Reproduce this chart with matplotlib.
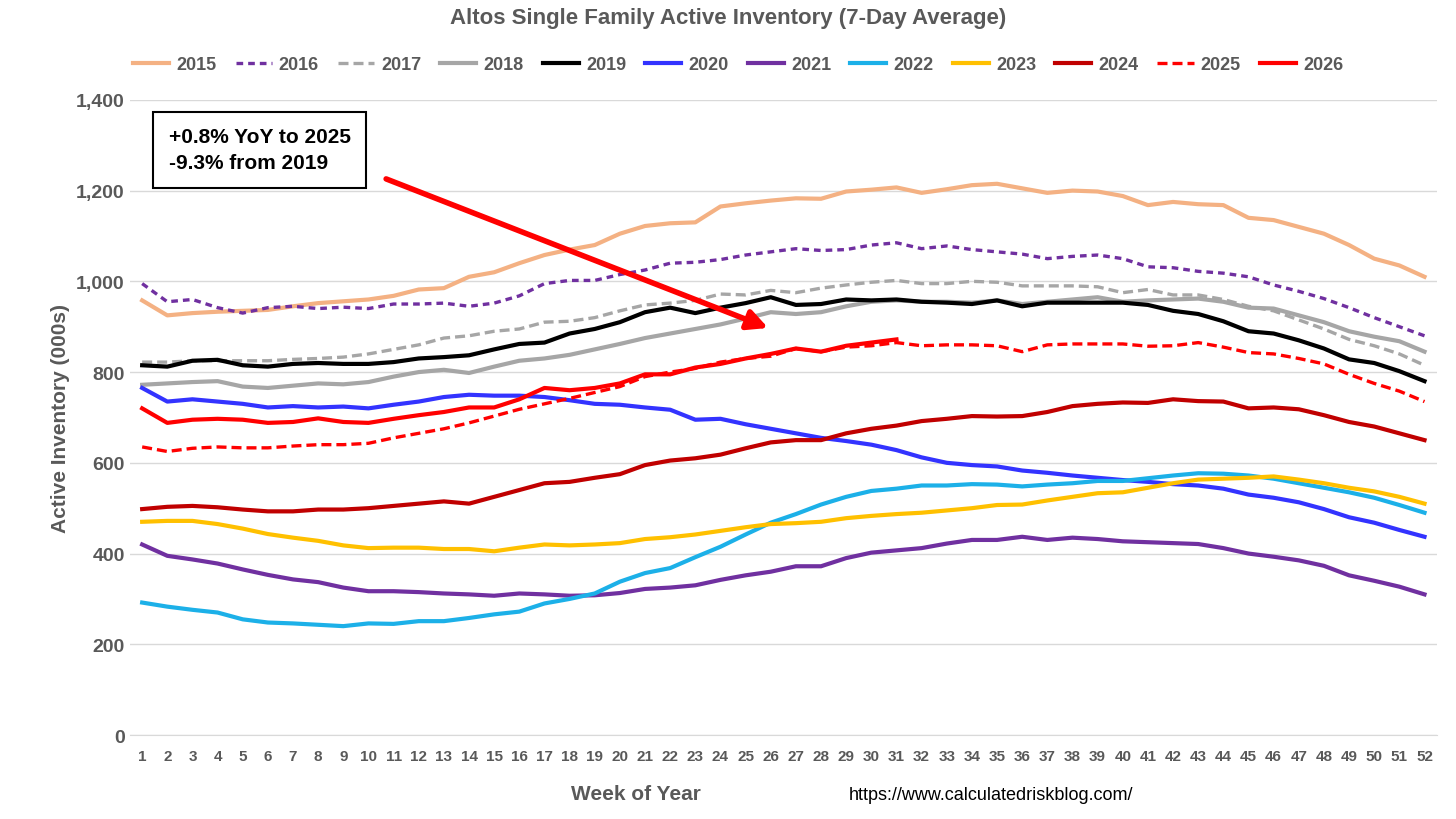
import matplotlib
matplotlib.use("Agg")
import matplotlib.pyplot as plt
import numpy as np

plt.rcParams['font.family'] = ['Liberation Sans', 'DejaVu Sans']

weeks = np.arange(1, 53)

y2015 = [958, 925, 930, 933, 935, 937, 945, 952, 956, 960, 968, 982, 985, 1010, 1020, 1040, 1058, 1070, 1080, 1105,
         1122, 1128, 1130, 1165, 1172, 1178, 1183, 1182, 1198, 1202, 1207, 1195, 1203, 1212, 1215, 1205, 1195, 1200,
         1198, 1188, 1168, 1175, 1170, 1168, 1140, 1135, 1120, 1105, 1080, 1050, 1035, 1010]
y2016 = [995, 955, 960, 942, 930, 942, 945, 940, 943, 940, 950, 950, 952, 945, 952, 968, 995, 1002, 1002, 1015,
         1025, 1040, 1042, 1048, 1058, 1065, 1072, 1068, 1070, 1080, 1085, 1072, 1078, 1070, 1065, 1060, 1050, 1055,
         1058, 1050, 1032, 1030, 1022, 1018, 1010, 992, 978, 962, 942, 920, 900, 880]
y2017 = [822, 822, 825, 825, 825, 825, 828, 830, 833, 840, 850, 860, 875, 880, 890, 895, 910, 912, 920, 935,
         948, 952, 958, 972, 970, 980, 975, 985, 992, 998, 1002, 995, 995, 1000, 998, 990, 990, 990,
         988, 975, 982, 970, 970, 960, 945, 935, 915, 895, 872, 858, 840, 815]
y2018 = [772, 775, 778, 780, 768, 765, 770, 775, 773, 778, 790, 800, 805, 798, 812, 825, 830, 838, 850, 862,
         875, 885, 895, 905, 918, 932, 928, 932, 945, 955, 958, 955, 955, 953, 958, 950, 955, 960,
         965, 955, 958, 960, 962, 955, 942, 940, 925, 910, 890, 878, 868, 845]
y2019 = [815, 812, 825, 827, 815, 812, 818, 820, 818, 818, 822, 830, 833, 837, 850, 862, 865, 885, 895, 910,
         932, 942, 930, 942, 952, 965, 948, 950, 960, 958, 960, 955, 953, 950, 958, 945, 953, 953,
         953, 953, 948, 935, 928, 912, 890, 885, 870, 852, 828, 820, 802, 780]
y2020 = [765, 735, 740, 735, 730, 722, 725, 722, 724, 720, 728, 735, 745, 750, 748, 748, 745, 738, 730, 728,
         722, 717, 695, 697, 685, 675, 665, 655, 648, 640, 628, 612, 600, 595, 592, 583, 578, 572,
         567, 562, 558, 553, 550, 543, 530, 523, 513, 498, 480, 468, 452, 437]
y2021 = [420, 395, 387, 378, 365, 353, 343, 337, 325, 317, 317, 315, 312, 310, 307, 312, 310, 307, 308, 313,
         322, 325, 330, 342, 352, 360, 372, 372, 390, 402, 407, 412, 422, 430, 430, 437, 430, 435,
         432, 427, 425, 423, 421, 412, 400, 393, 385, 373, 352, 340, 327, 310]
y2022 = [292, 283, 276, 270, 255, 248, 246, 243, 240, 246, 245, 251, 251, 258, 266, 272, 290, 300, 312, 338,
         357, 368, 392, 415, 442, 468, 487, 508, 525, 538, 543, 550, 550, 553, 552, 548, 552, 555,
         560, 560, 566, 572, 577, 576, 572, 565, 555, 545, 535, 523, 507, 490]
y2023 = [470, 472, 472, 465, 455, 443, 435, 428, 418, 412, 413, 413, 410, 410, 405, 413, 420, 418, 420, 423,
         432, 436, 442, 450, 458, 465, 467, 470, 478, 483, 487, 490, 495, 500, 507, 508, 517, 525,
         533, 535, 545, 555, 563, 565, 567, 570, 563, 555, 545, 537, 525, 510]
y2024 = [498, 503, 505, 502, 497, 493, 493, 497, 497, 500, 505, 510, 515, 510, 525, 540, 555, 558, 567, 575,
         595, 605, 610, 618, 632, 645, 650, 650, 665, 675, 682, 692, 697, 703, 702, 703, 712, 725,
         730, 733, 732, 740, 736, 735, 720, 722, 718, 705, 690, 680, 665, 650]
y2025 = [635, 625, 632, 635, 633, 633, 637, 640, 640, 643, 655, 665, 675, 688, 703, 718, 730, 742, 755, 768,
         790, 800, 808, 822, 830, 835, 852, 845, 855, 858, 865, 858, 860, 860, 858, 845, 860, 862,
         862, 862, 857, 858, 865, 855, 843, 840, 830, 818, 795, 775, 758, 735]
y2026 = [720, 688, 695, 697, 695, 688, 690, 698, 690, 688, 697, 705, 712, 722, 722, 740, 765, 760, 765, 775,
         795, 795, 810, 818, 830, 840, 852, 845, 858, 865, 872]

series = [
    ("2015", y2015, "#F4B183", "-"),
    ("2016", y2016, "#7030A0", (0, (2, 1.5))),
    ("2017", y2017, "#A6A6A6", (0, (3, 1.5))),
    ("2018", y2018, "#A6A6A6", "-"),
    ("2019", y2019, "#000000", "-"),
    ("2020", y2020, "#3333FF", "-"),
    ("2021", y2021, "#7030A0", "-"),
    ("2022", y2022, "#1CB0E8", "-"),
    ("2023", y2023, "#FFC000", "-"),
    ("2024", y2024, "#C00000", "-"),
    ("2025", y2025, "#FF0000", (0, (3, 1.5))),
    ("2026", y2026, "#FF0000", "-"),
]

fig = plt.figure(figsize=(14.56, 8.2), dpi=100)
ax = fig.add_axes([0.089, 0.1024, 0.898, 0.7746])

for name, vals, color, ls in series:
    w = 2.4 if name in ("2016", "2017", "2025") else 3
    ax.plot(weeks[:len(vals)], vals, color=color, linestyle=ls, linewidth=w, label=name)

ax.set_xlim(0.5, 52.5)
ax.set_ylim(0, 1400)
ax.set_yticks(range(0, 1401, 200))
ax.set_yticklabels([f"{v:,}" for v in range(0, 1401, 200)])
ax.set_xticks(weeks)
ax.grid(axis='y', color='#D9D9D9', linewidth=1)
ax.set_axisbelow(True)
for s in ["top", "right", "left"]:
    ax.spines[s].set_visible(False)
ax.spines["bottom"].set_color("#D9D9D9")
ax.tick_params(length=0, colors="#595959")
for lab in ax.get_xticklabels():
    lab.set_fontweight("bold"); lab.set_fontsize(11)
for lab in ax.get_yticklabels():
    lab.set_fontweight("bold"); lab.set_fontsize(14)
ax.tick_params(axis='x', pad=10)

ax.set_ylabel("Active Inventory (000s)", fontsize=15, fontweight="bold", color="#595959")
fig.text(0.437, 0.024, "Week of Year", fontsize=15, fontweight="bold", color="#595959", ha="center")
fig.text(0.583, 0.024, "https://www.calculatedriskblog.com/", fontsize=13, color="#000000")
fig.suptitle("Altos Single Family Active Inventory (7-Day Average)", y=0.99, fontsize=16,
             fontweight="bold", color="#595959")

leg = fig.legend(loc="center", bbox_to_anchor=(0.507, 0.92), ncol=12, frameon=False,
                 fontsize=13, handlelength=2.0, columnspacing=1.05, handletextpad=0.4)
for t in leg.get_texts():
    t.set_fontweight("bold"); t.set_color("#595959")

ax.text(2.05, 1290, "+0.8% YoY to 2025\n-9.3% from 2019", fontsize=15, fontweight="bold",
        va="center", linespacing=1.45,
        bbox=dict(boxstyle="square,pad=0.75", facecolor="white", edgecolor="black", linewidth=1.5))
ax.annotate("", xy=(26.0, 895), xytext=(10.6, 1228),
            arrowprops=dict(arrowstyle="-|>,head_length=1.2,head_width=0.6", color="#FF0000", lw=4))

fig.savefig("out.png", dpi=100)
